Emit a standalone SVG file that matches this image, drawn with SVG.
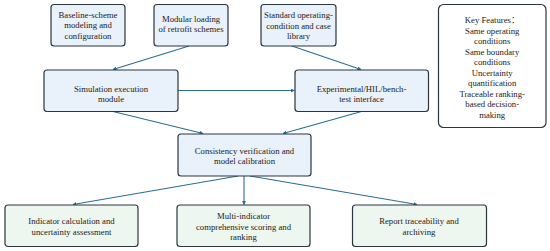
<svg xmlns="http://www.w3.org/2000/svg" width="550" height="251" viewBox="0 0 550 251">
<defs>
<style>
.box{stroke:#2b3640;stroke-width:1.2}
.blue{fill:#e9f1fa}
.green{fill:#eef6f0}
.white{fill:#ffffff}
text{font-family:"Liberation Serif","Times New Roman","Noto Sans CJK SC",serif;font-size:8.7px;fill:#222222;text-anchor:middle}
.conn line{stroke:#2a6e95;stroke-width:1.1;fill:none;marker-end:url(#ah)}
</style>
<marker id="ah" viewBox="0 0 10 10" refX="9" refY="5" markerWidth="4" markerHeight="4" orient="auto" markerUnits="userSpaceOnUse">
<path d="M0,0 L10,5 L0,10 z" fill="#2a6e95"/>
</marker>
</defs>
<rect width="550" height="251" fill="#ffffff"/>
<g id="connectors" class="conn">
<line x1="189" y1="46" x2="113" y2="69.5"/>
<line x1="292" y1="46" x2="361" y2="69.5"/>
<line x1="178" y1="90.5" x2="294.5" y2="90.5"/>
<line x1="113" y1="111.5" x2="203" y2="133.5"/>
<line x1="361.5" y1="111.5" x2="283" y2="133.5"/>
<line x1="238" y1="176" x2="73" y2="204.5"/>
<line x1="244" y1="176" x2="244" y2="204.5"/>
<line x1="250" y1="176" x2="417" y2="204.5"/>
</g>
<g id="n1">
<rect class="box blue" x="51" y="4.5" width="74" height="41.5" rx="3"/>
<text x="88" y="18">Baseline-scheme</text>
<text x="88" y="28.3">modeling and</text>
<text x="88" y="38.6">configuration</text>
</g>
<g id="n2">
<rect class="box blue" x="154" y="4.5" width="74" height="41.5" rx="3"/>
<text x="191" y="22">Modular loading</text>
<text x="191" y="32.3">of retrofit schemes</text>
</g>
<g id="n3">
<rect class="box blue" x="261" y="4.5" width="75" height="41.5" rx="3"/>
<text x="298.5" y="18">Standard operating-</text>
<text x="298.5" y="28.5">condition and case</text>
<text x="298.5" y="39">library</text>
</g>
<g id="n4">
<rect class="box blue" x="44" y="70" width="134" height="41.5" rx="3"/>
<text x="111" y="92.3">Simulation execution</text>
<text x="111" y="102.3">module</text>
</g>
<g id="n5">
<rect class="box blue" x="295" y="70" width="133.5" height="41.5" rx="3"/>
<text x="361.5" y="92">Experimental/HIL/bench-</text>
<text x="361.5" y="101.8">test interface</text>
</g>
<g id="n6">
<rect class="box blue" x="178" y="134" width="133" height="42" rx="3"/>
<text x="244.5" y="154">Consistency verification and</text>
<text x="244.5" y="164.3">model calibration</text>
</g>
<g id="n7">
<rect class="box green" x="5" y="205" width="133" height="41.5" rx="3"/>
<text x="71.5" y="223.7">Indicator calculation and</text>
<text x="71.5" y="235">uncertainty assessment</text>
</g>
<g id="n8">
<rect class="box green" x="177" y="205" width="133" height="41.5" rx="3"/>
<text x="243.5" y="218.7">Multi-indicator</text>
<text x="243.5" y="229.7">comprehensive scoring and</text>
<text x="243.5" y="240.3">ranking</text>
</g>
<g id="n9">
<rect class="box green" x="352.5" y="205" width="134" height="41.5" rx="3"/>
<text x="419" y="224">Report traceability and</text>
<text x="419" y="234.7">archiving</text>
</g>
<g id="key">
<rect class="box white" x="438.5" y="4.5" width="107.5" height="123" rx="5"/>
<text x="492.2" y="23">Key Features：</text>
<text x="492.2" y="33.5">Same operating</text>
<text x="492.2" y="44">conditions</text>
<text x="492.2" y="54.5">Same boundary</text>
<text x="492.2" y="65">conditions</text>
<text x="492.2" y="75.5">Uncertainty</text>
<text x="492.2" y="86">quantification</text>
<text x="492.2" y="96.5">Traceable ranking-</text>
<text x="492.2" y="107">based decision-</text>
<text x="492.2" y="117.5">making</text>
</g>
</svg>
